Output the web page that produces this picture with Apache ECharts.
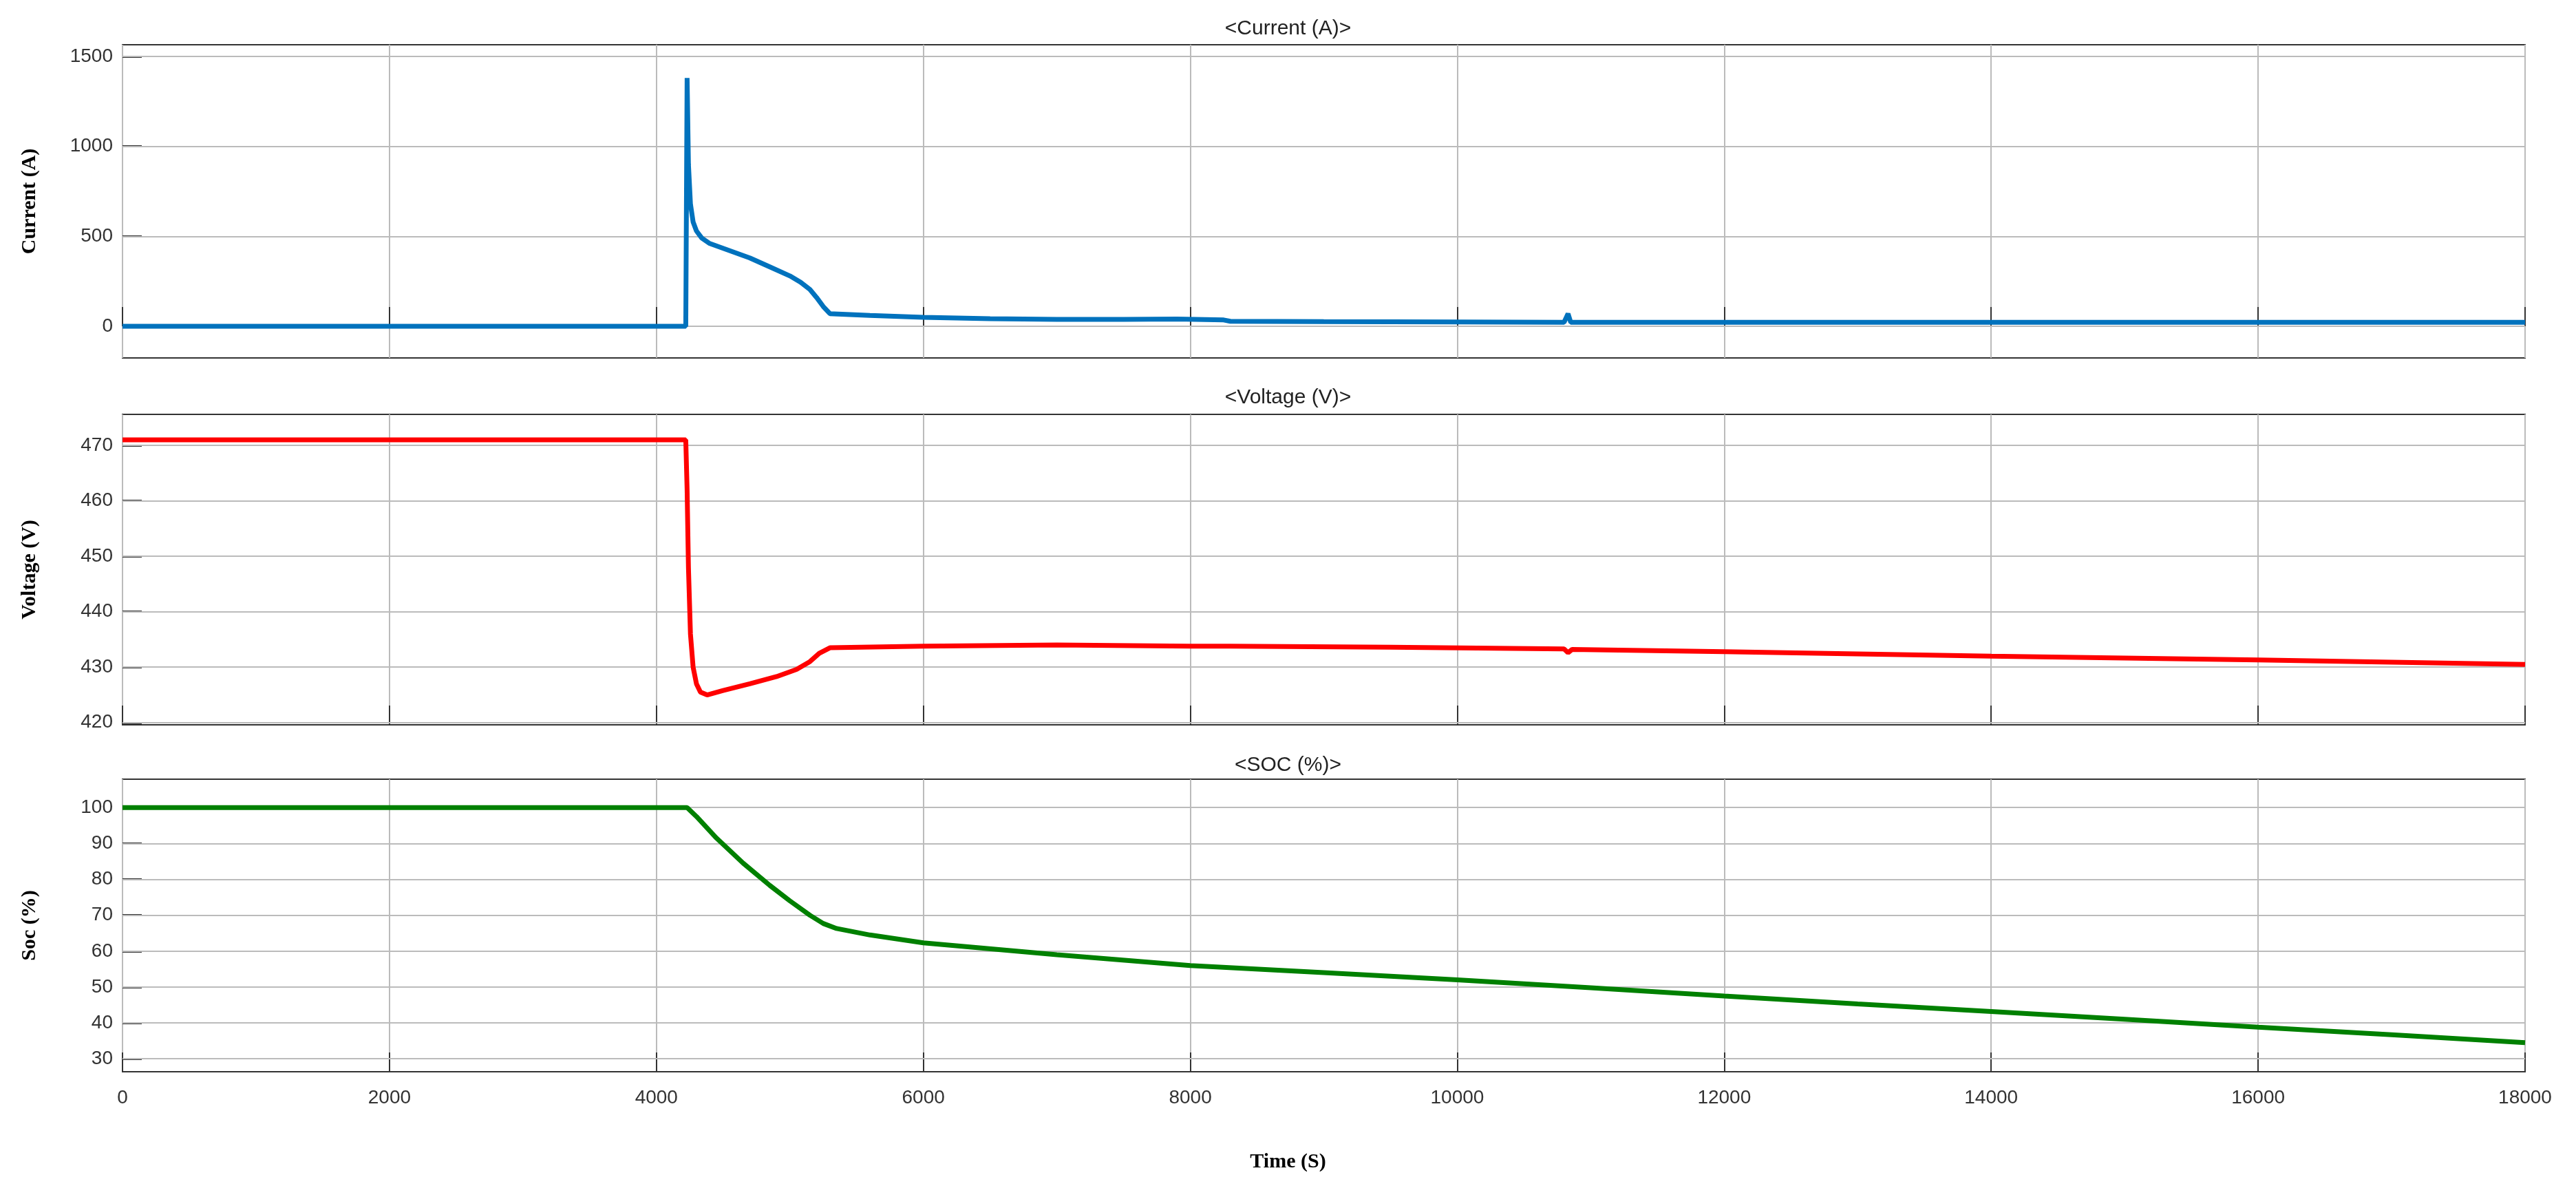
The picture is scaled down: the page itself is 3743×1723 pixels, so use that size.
<!DOCTYPE html>
<html>
<head>
<meta charset="utf-8">
<script src="https://cdn.jsdelivr.net/npm/echarts@6/dist/echarts.min.js"></script>
<style>html,body{margin:0;padding:0;background:#fff}#main{width:3743px;height:1723px}</style>
</head>
<body>
<div id="main"></div>
<script>
// 时间点 (S) 与三条曲线
let currentT = [0, 4220, 4230, 4240, 4255, 4275, 4300, 4340, 4400, 4550, 4700, 4850, 5000, 5080, 5150, 5200, 5250, 5300, 5600, 6000, 6500, 7000, 7500, 7900, 8250, 8300, 9000, 10000, 10800, 10830, 10850, 11000, 14000, 18000];
let currentV = [0, 0, 1380, 900, 680, 580, 530, 490, 460, 420, 380, 330, 280, 245, 205, 160, 110, 70, 60, 50, 42, 38, 38, 40, 35, 28, 26, 24, 22, 70, 22, 22, 22, 22];

let voltT = [0, 4220, 4230, 4240, 4255, 4275, 4300, 4330, 4380, 4500, 4700, 4900, 5050, 5150, 5220, 5300, 6000, 7000, 8000, 8300, 9500, 10800, 10830, 10860, 12000, 14000, 16000, 18000];
let voltV = [471, 471, 462, 448, 436, 430, 427, 425.5, 425, 425.8, 427, 428.3, 429.6, 431, 432.5, 433.5, 433.8, 434, 433.8, 433.8, 433.6, 433.3, 432.6, 433.2, 432.8, 432, 431.3, 430.5];

let socT = [0, 4230, 4300, 4450, 4650, 4850, 5000, 5150, 5250, 5350, 5600, 6000, 7000, 8000, 9000, 10000, 11000, 12000, 13000, 14000, 15000, 16000, 17000, 18000];
let socV = [100, 100, 97.5, 91.5, 84.5, 78.3, 74, 70, 67.7, 66.3, 64.5, 62.3, 59, 56, 54, 52, 49.8, 47.5, 45.3, 43.2, 41, 38.8, 36.7, 34.5];

let currentTicks = [0, 500, 1000, 1500];
let voltTicks = [420, 430, 440, 450, 460, 470];
let socTicks = [30, 40, 50, 60, 70, 80, 90, 100];

function pairs(t, v) { return t.map((x, i) => [x, v[i]]); }

let chart = echarts.init(document.getElementById('main'));
let grids = [
    { top: 65, height: 455 },
    { top: 602, height: 451 },
    { top: 1132, height: 425 }
];
let ranges = [[-176, 1565], [419.6, 475.6], [26.4, 107.9]];
let ticks = [currentTicks, voltTicks, socTicks];
let names = ['Current (A)', 'Voltage (V)', 'Soc (%)'];
let titles = ['<Current (A)>', '<Voltage (V)>', '<SOC (%)>'];
let titleTops = [22, 558, 1092];
let colors = ['#0072BD', '#FF0000', '#008000'];
let data = [pairs(currentT, currentV), pairs(voltT, voltV), pairs(socT, socV)];

// 水平网格线单独一个系列，放在曲线下面
let gridSeries = ticks.map((tk, i) => ({
    type: 'line', xAxisIndex: i, yAxisIndex: i, data: [], z: 1, silent: true,
    markLine: {
        silent: true, symbol: 'none', label: { show: false }, animation: false,
        lineStyle: { color: '#bbb', width: 2, type: 'solid' },
        data: tk.map(v => ({ yAxis: v }))
    }
}));
let lineSeries = data.map((d, i) => ({
    type: 'line', xAxisIndex: i, yAxisIndex: i, data: d, showSymbol: false,
    lineStyle: { color: colors[i], width: 7 }, z: 5
}));

let option = {
    backgroundColor: '#fff',
    animation: false,
    title: titles.map((t, i) => ({
        text: t, left: 'center', top: titleTops[i],
        textStyle: { fontFamily: 'Liberation Sans', fontWeight: 'normal', fontSize: 30, color: '#222' }
    })).concat([{
        text: 'Time (S)', left: 'center', top: 1668,
        textStyle: { fontFamily: 'Liberation Serif', fontWeight: 'bold', fontSize: 30, color: '#000' }
    }]),
    grid: grids.map(g => ({ left: 178, right: 74, top: g.top, height: g.height, show: true, borderColor: '#333', borderWidth: 2 })),
    xAxis: grids.map((g, i) => ({
        type: 'value', gridIndex: i, min: 0, max: 18000, interval: 2000,
        axisLine: { show: false },
        axisTick: { show: true, inside: true, length: 28, lineStyle: { color: '#333', width: 2 } },
        axisLabel: { show: i === 2, fontFamily: 'Liberation Sans', fontSize: 28, color: '#333', margin: 24, formatter: v => String(v) },
        splitLine: { show: true, lineStyle: { color: '#bbb', width: 2 } }
    })),
    yAxis: grids.map((g, i) => ({
        type: 'value', gridIndex: i, min: ranges[i][0], max: ranges[i][1],
        name: names[i], nameLocation: 'middle', nameGap: 120, nameRotate: 90,
        nameTextStyle: { fontFamily: 'Liberation Serif', fontWeight: 'bold', fontSize: 30, color: '#000' },
        axisLine: { show: false },
        axisTick: { show: true, inside: true, length: 28, customValues: ticks[i], lineStyle: { color: '#333', width: 3 } },
        axisLabel: { customValues: ticks[i], fontFamily: 'Liberation Sans', fontSize: 28, color: '#333', margin: 14, formatter: v => String(v) },
        splitLine: { show: false }
    })),
    series: gridSeries.concat(lineSeries)
};
chart.setOption(option);
</script>
</body>
</html>
